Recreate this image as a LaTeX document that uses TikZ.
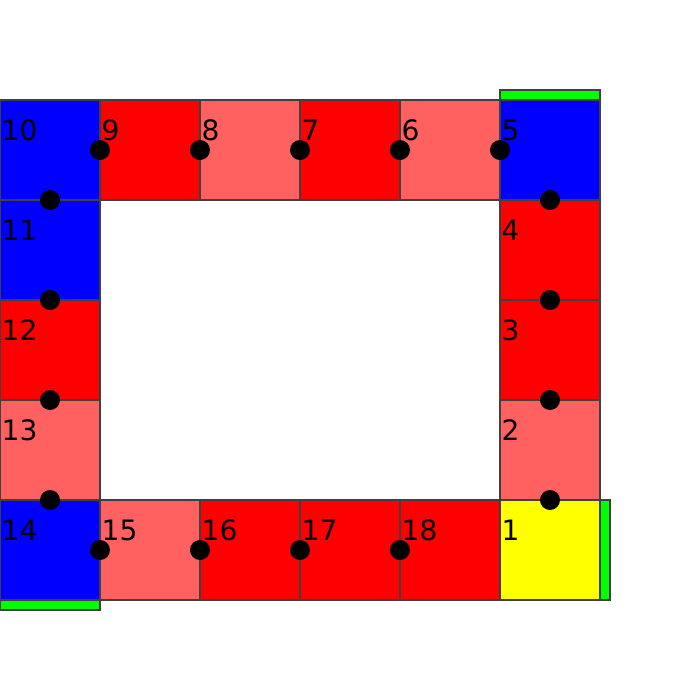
\documentclass[tikz,border=0pt]{standalone}
\usepackage{fontspec}
\setmainfont{DejaVu Sans}
\definecolor{tilered}{RGB}{255,0,0}
\definecolor{tilepink}{RGB}{255,96,96}
\definecolor{tileblue}{RGB}{0,0,255}
\definecolor{tileyellow}{RGB}{255,255,0}
\definecolor{gategreen}{RGB}{0,255,0}
\usetikzlibrary{positioning,calc}

\begin{document}
\begin{tikzpicture}[
  tile/.style={draw=black!75, line width=0.3pt, minimum size=1cm, inner sep=0pt, outer sep=0pt},
  tilenum/.style={font=\fontsize{8}{9.6}\selectfont, inner sep=0pt, anchor=base west},
  gate/.style={draw=black!75, line width=0.3pt, fill=gategreen, inner sep=0pt, outer sep=0pt},
  linkdot/.style={circle, fill=black, minimum size=0.2cm, inner sep=0pt}
]
\useasboundingbox (0,0) rectangle (7,7);
% board tiles
\foreach \n/\x/\y/\c in {1/5/5/tileyellow, 2/5/4/tilepink, 3/5/3/tilered, 4/5/2/tilered,
  5/5/1/tileblue, 6/4/1/tilepink, 7/3/1/tilered, 8/2/1/tilepink, 9/1/1/tilered,
  10/0/1/tileblue, 11/0/2/tileblue, 12/0/3/tilered, 13/0/4/tilepink, 14/0/5/tileblue,
  15/1/5/tilepink, 16/2/5/tilered, 17/3/5/tilered, 18/4/5/tilered}
{
  \node[tile, fill=\c] (sq\n) at (\x+0.5, 6.5-\y) {};
  \node[tilenum] (num\n) at ($(sq\n.north west)+(0.01,-0.4)$) {\n};
}
% green gates
\node[gate, minimum width=1cm, minimum height=0.1cm, anchor=south] (gatetop) at (sq5.north) {};
\node[gate, minimum width=0.1cm, minimum height=1cm, anchor=west] (gateright) at (sq1.east) {};
\node[gate, minimum width=1cm, minimum height=0.1cm, anchor=north] (gatebottom) at (sq14.south) {};
% links between tiles
\foreach \n/\side in {1/north, 2/north, 3/north, 4/north, 5/west, 6/west, 7/west, 8/west,
  9/west, 10/south, 11/south, 12/south, 13/south, 14/east, 15/east, 16/east, 17/east}
  \node[linkdot] (pt\n) at (sq\n.\side) {};
\end{tikzpicture}
\end{document}
